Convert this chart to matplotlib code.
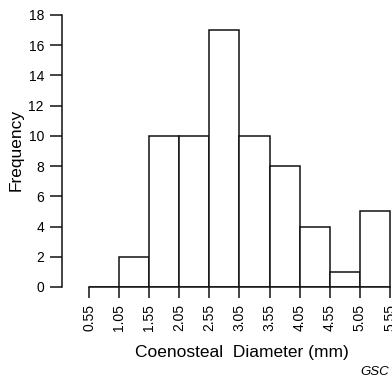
import matplotlib
matplotlib.use("Agg")
import matplotlib.pyplot as plt

bin_edges = [0.55, 1.05, 1.55, 2.05, 2.55, 3.05, 3.55, 4.05, 4.55, 5.05, 5.55]
frequencies = [0, 2, 10, 10, 17, 10, 8, 4, 1, 5]
x_tick_labels = ["0.55", "1.05", "1.55", "2.05", "2.55", "3.05", "3.55", "4.05", "4.55", "5.05", "5.55"]
y_ticks = [0, 2, 4, 6, 8, 10, 12, 14, 16, 18]

plt.rcParams['font.family'] = ['Liberation Sans', 'DejaVu Sans']

fig = plt.figure(figsize=(3.92, 3.80), dpi=100)
ax = fig.add_axes([62/392, 93/380, 330/392, 272/380])

widths = [bin_edges[i+1] - bin_edges[i] for i in range(len(frequencies))]
ax.bar(bin_edges[:-1], frequencies, width=widths, align='edge',
       facecolor='white', edgecolor='#111111', linewidth=1.1)

ax.set_xlim(0.101, 5.584)
ax.set_ylim(0, 18)
ax.spines['top'].set_visible(False)
ax.spines['right'].set_visible(False)
ax.spines['bottom'].set_bounds(bin_edges[0], bin_edges[-1])
ax.spines['left'].set_linewidth(1.1)
ax.spines['bottom'].set_linewidth(1.1)
ax.spines['left'].set_color('#111111')
ax.spines['bottom'].set_color('#111111')

ax.set_xticks(bin_edges)
ax.set_xticklabels(x_tick_labels, rotation=90, fontsize=10)
ax.set_yticks(y_ticks)
ax.set_yticklabels([str(v) for v in y_ticks], fontsize=10)
ax.tick_params(axis='x', length=8, width=1.1, color='#111111', pad=4)
ax.tick_params(axis='y', length=9, width=1.1, color='#111111', pad=4)

fig.text(16/392, 1 - 150/380, "Frequency", rotation=90, ha='center', va='center', fontsize=12.5)
fig.text(242/392, 1 - 352/380, "Coenosteal  Diameter (mm)", ha='center', va='center', fontsize=12.5)
fig.text(389/392, 1 - 372/380, "GSC", ha='right', va='center', fontsize=9.5, style='italic')

fig.savefig("out.png", dpi=100)
